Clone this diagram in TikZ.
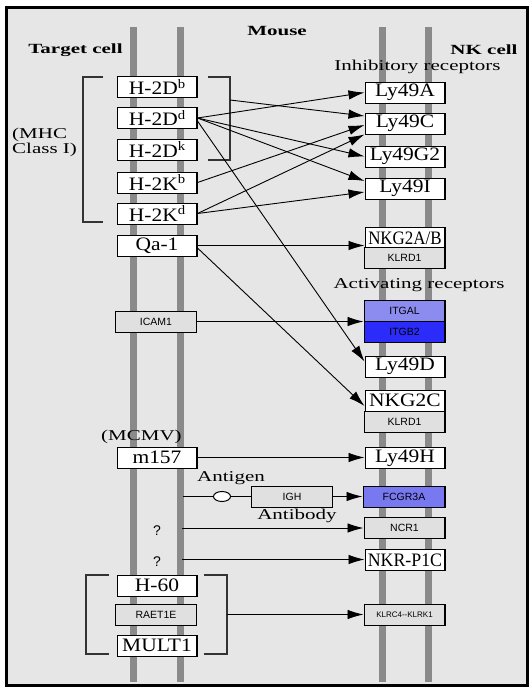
\documentclass[tikz,border=0pt]{standalone}
\usepackage{fontspec}
\setmainfont{Liberation Serif}
\newfontfamily\boxfont[FakeStretch=1.13]{Liberation Serif}
\newfontfamily\lblfont[FakeStretch=1.4]{Liberation Serif}
\newfontfamily\ttlfont[FakeStretch=1.5]{Liberation Serif}
\newfontfamily\genefont{Liberation Sans}
\usetikzlibrary{arrows.meta,shapes.geometric,calc}
\definecolor{bgc}{HTML}{E6E6E6}
\definecolor{memc}{HTML}{8A8A8A}
\definecolor{geneg}{HTML}{E0E0E0}
\definecolor{itgalc}{HTML}{8C8CF0}
\definecolor{itgbc}{HTML}{2B2BFA}
\definecolor{fcgc}{HTML}{7878F0}
\newcommand{\supb}[1]{\raisebox{0.33em}{\fontsize{13}{13}\selectfont #1}}
\begin{document}
\begin{tikzpicture}[x=1pt,y=-1pt,
 membrane/.style={draw=memc, line width=7pt},
 wbox/.style={draw=black, fill=white, line width=1pt, minimum width=80pt, minimum height=21pt, inner sep=0pt,
   font=\boxfont\fontsize{19}{19}\selectfont,
   path picture={\draw[line width=2pt] (path picture bounding box.north east) -- (path picture bounding box.south east);}},
 gbox/.style={wbox, fill=geneg, minimum width=81pt, font=\genefont\fontsize{10.5}{10.5}\selectfont},
 lbl/.style={inner sep=0pt, font=\lblfont\fontsize{15}{15}\selectfont},
 ttl/.style={inner sep=0pt, font=\ttlfont\bfseries\fontsize{14}{14}\selectfont},
 qm/.style={inner sep=0pt, font=\genefont\fontsize{14}{14}\selectfont},
 arr/.style={line width=0.9pt, -{Latex[length=16pt,width=9.5pt]}},
 conn/.style={line width=0.9pt},
 brk/.style={line width=1.3pt, draw=black!80},
]
\useasboundingbox (0,0) rectangle (530,689);
\fill[white] (0,0) rectangle (530,689);
\fill[bgc] (6.5,7.5) rectangle (527.5,685.5);
\draw[line width=3pt] (6.5,7.5) rectangle (527.5,685.5);

% membranes
\draw[membrane] (133,27) -- (133,682);
\draw[membrane] (180,27) -- (180,682);
\draw[membrane] (382,27) -- (382,682);
\draw[membrane] (428,27) -- (428,682);

% titles
\node[ttl] (mouse) at (277,31) {Mouse};
\node[ttl] (tcell) at (75.5,50) {Target cell};
\node[ttl] (nkcell) at (484,50) {NK cell};
\node[lbl] (inhib) at (417.5,67) {Inhibitory receptors};
\node[lbl] (activ) at (419,285) {Activating receptors};
\node[lbl, anchor=west, align=left] (mhc) at (12,142.5) {(MHC\\Class I)};
\node[lbl] (mcmv) at (141.5,437) {(MCMV)};
\node[lbl] (antigen) at (231,478) {Antigen};
\node[lbl] (antibody) at (297,516) {Antibody};
\node[qm] (q1t) at (157,531) {?};
\node[qm] (q2t) at (157,562) {?};

% brackets
\draw[brk] (103,77) -- (83,77) -- (83,222) -- (103,222);
\draw[brk] (208,77) -- (230,77) -- (230,160) -- (208,160);
\draw[brk] (109,575) -- (86,575) -- (86,654) -- (109,654);
\draw[brk] (204,575) -- (227,575) -- (227,654) -- (204,654);

% left column
\node[wbox] (hDb) at (157,87) {H-2D\supb{b}};
\node[wbox] (hDd) at (157,118) {H-2D\supb{d}};
\node[wbox] (hDk) at (157,149.5) {H-2D\supb{k}};
\node[wbox] (hKb) at (157,182.5) {H-2K\supb{b}};
\node[wbox] (hKd) at (157,213.5) {H-2K\supb{d}};
\node[wbox] (qa1) at (157,245.5) {Qa-1};
\node[gbox] (icam) at (156,321.5) {ICAM1};
\node[wbox] (m157) at (157,457.5) {m157};
\node[wbox] (h60) at (157,585.5) {H-60};
\node[gbox] (raet) at (156,615) {RAET1E};
\node[wbox] (mult) at (157,645.5) {MULT1};

% right column
\node[wbox] (ly49a) at (405,92.5) {Ly49A};
\node[wbox] (ly49c) at (405,123.5) {Ly49C};
\node[wbox] (ly49g2) at (405,156.5) {Ly49G2};
\node[wbox] (ly49i) at (405,188.5) {Ly49I};
\node[wbox] (nkg2ab) at (405,238) {\scalebox{0.79}[1]{NKG2A/B}};
\node[gbox] (klrd1a) at (404.5,258) {KLRD1};
\node[gbox, fill=itgalc] (itgal) at (404.5,311) {ITGAL};
\node[gbox, fill=itgbc] (itgb2) at (404.5,331.5) {ITGB2};
\node[wbox] (ly49d) at (405,366.5) {Ly49D};
\node[wbox] (nkg2c) at (405,400.5) {NKG2C};
\node[gbox] (klrd1b) at (404.5,421.5) {KLRD1};
\node[wbox] (ly49h) at (405,458) {Ly49H};
\node[gbox, fill=fcgc, minimum width=82pt] (fcgr) at (404,496.5) {FCGR3A};
\node[gbox] (ncr1) at (404.5,528) {NCR1};
\node[wbox] (nkrp1c) at (405,560) {\scalebox{0.83}[1]{NKR-P1C}};
\node[gbox] (klrc4) at (404.5,615) {\fontsize{8}{8}\selectfont KLRC4--KLRK1};

% antigen / antibody
\node[gbox] (igh) at (292,496.5) {IGH};
\node[ellipse, draw=black, fill=white, line width=1pt, minimum width=17pt, minimum height=10pt, inner sep=0pt] (agc) at (222,496.5) {};

% coordinates for free ends
\coordinate (brk1) at (230,100);
\coordinate (ag) at (183,496.5);
\coordinate (q1) at (182,528);
\coordinate (q2) at (182,559.5);
\coordinate (brk2) at (227,614.5);

% connectors
\draw[arr] (brk1) -- ([yshift=7.5pt]ly49c.west);
\draw[arr] (hDd.east) -- (ly49a.west);
\draw[arr] (hDd.east) -- (ly49g2.west);
\draw[arr] (hDd.east) -- ([yshift=7.5pt]ly49i.west);
\draw[arr] ([yshift=-3pt]hDd.east) -- ([yshift=5pt]ly49d.west);
\draw[arr] (hKb.east) -- ([yshift=-1.5pt]ly49c.west);
\draw[arr] (hKd.east) -- ([yshift=-11pt]ly49c.west);
\draw[arr] (hKd.east) -- ([yshift=-3.5pt]ly49i.west);
\draw[arr] (qa1.east) -- (qa1.east -| nkg2ab.west);
\draw[arr] ([yshift=-2.5pt]qa1.east) -- ([yshift=-5.5pt]nkg2c.west);
\draw[arr] (icam.east) -- (icam.east -| itgal.west);
\draw[arr] (m157.east) -- (m157.east -| ly49h.west);
\draw[conn] (ag) -- (agc.west);
\draw[conn] (agc.east) -- (igh.west);
\draw[arr] (igh.east) -- (fcgr.west);
\draw[arr] (q1) -- (q1 -| ncr1.west);
\draw[arr] (q2) -- (q2 -| nkrp1c.west);
\draw[arr] (brk2) -- (brk2 -| klrc4.west);
\end{tikzpicture}
\end{document}
